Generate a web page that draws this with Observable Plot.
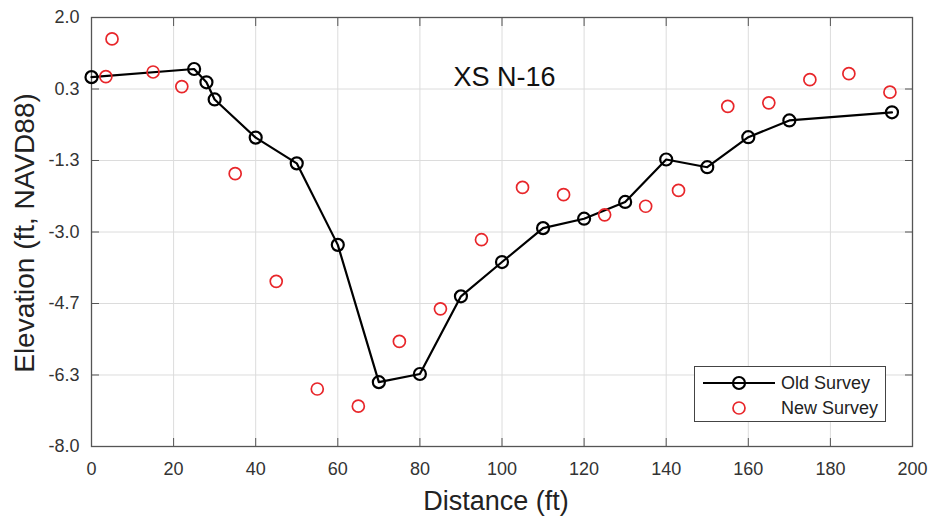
<!DOCTYPE html>
<html>
<head>
<meta charset="utf-8">
<script src="https://cdn.jsdelivr.net/npm/d3@7"></script>
<script src="https://cdn.jsdelivr.net/npm/@observablehq/plot@0.6"></script>
<style>
  html, body { margin: 0; padding: 0; background: #fff; }
  #wrap { position: relative; width: 933px; height: 525px; font-family: "Liberation Sans", Arial, Helvetica, sans-serif; }
  #legend { position: absolute; left: 694px; top: 366px; width: 192px; height: 56px; border: 1px solid #444; background: #fff; box-sizing: border-box; }
</style>
</head>
<body>
<div id="wrap"></div>
<script>
// Old survey (line with circle markers)
const oldDist = [0, 25, 28, 30, 40, 50, 60, 70, 80, 90, 100, 110, 120, 130, 140, 150, 160, 170, 195];
const oldElev = [0.61, 0.80, 0.49, 0.09, -0.80, -1.40, -3.30, -6.50, -6.31, -4.50, -3.70, -2.91, -2.69, -2.30, -1.31, -1.49, -0.79, -0.40, -0.21];
// New survey (red circles)
const newDist = [3.5, 5, 15, 22, 35, 45, 55, 65, 75, 85, 95, 105, 115, 125, 135, 143, 155, 165, 175, 184.5, 194.5];
const newElev = [0.62, 1.50, 0.73, 0.39, -1.64, -4.15, -6.66, -7.06, -5.55, -4.79, -3.18, -1.96, -2.13, -2.60, -2.40, -2.03, -0.07, 0.01, 0.55, 0.69, 0.26];
// Axis ticks
const xTicks = [0, 20, 40, 60, 80, 100, 120, 140, 160, 180, 200];
const yTicks = [-8, -6.3333, -4.6667, -3, -1.3333, 0.3333, 2];
const yTickLabels = ["-8.0", "-6.3", "-4.7", "-3.0", "-1.3", "0.3", "2.0"];
const title = "XS N-16";
const xLabel = "Distance (ft)";
const yLabel = "Elevation (ft, NAVD88)";
const seriesNames = ["Old Survey", "New Survey"];

const oldData = oldDist.map((d, i) => ({dist: d, elev: oldElev[i]}));
const newData = newDist.map((d, i) => ({dist: d, elev: newElev[i]}));
const yLabelMap = new Map(yTicks.map((t, i) => [t, yTickLabels[i]]));

const FONT = "Liberation Sans, Arial, Helvetica, sans-serif";
const axisColor = "#555";
const red = "#e8262a";

const chart = Plot.plot({
  width: 933,
  height: 525,
  marginLeft: 91,
  marginRight: 21,
  marginTop: 17,
  marginBottom: 79,
  style: {fontFamily: FONT, background: "#fff", color: "#333"},
  x: {domain: [0, 200]},
  y: {domain: [-8, 2]},
  marks: [
    Plot.gridX(xTicks, {stroke: "#dcdcdc", strokeOpacity: 1}),
    Plot.gridY(yTicks, {stroke: "#dcdcdc", strokeOpacity: 1}),
    Plot.frame({stroke: axisColor, strokeWidth: 1.3}),
    // inward tick marks on all four sides
    Plot.axisX(xTicks, {anchor: "bottom", tickSize: 8, dy: -8, tickFormat: () => "", stroke: axisColor, label: null}),
    Plot.axisX(xTicks, {anchor: "top", tickSize: 8, dy: 8, tickFormat: () => "", stroke: axisColor, label: null}),
    Plot.axisY(yTicks, {anchor: "left", tickSize: 8, dx: 8, tickFormat: () => "", stroke: axisColor, label: null}),
    Plot.axisY(yTicks, {anchor: "right", tickSize: 8, dx: -8, tickFormat: () => "", stroke: axisColor, label: null}),
    // tick labels
    Plot.axisX(xTicks, {anchor: "bottom", tickSize: 0, tickPadding: 16, fontSize: 18, fill: "#333", label: null}),
    Plot.axisY(yTicks, {anchor: "left", tickSize: 0, tickPadding: 12, fontSize: 18, fill: "#333", label: null,
      tickFormat: d => yLabelMap.get(d)}),
    // data
    Plot.line(oldData, {x: "dist", y: "elev", stroke: "#000", strokeWidth: 2.2}),
    Plot.dot(oldData, {x: "dist", y: "elev", r: 6, stroke: "#000", strokeWidth: 2.2, fill: "none"}),
    Plot.dot(newData, {x: "dist", y: "elev", r: 6, stroke: red, strokeWidth: 1.7, fill: "none"}),
    // texts
    Plot.text([title], {frameAnchor: "top", dx: 2.5, dy: 68, lineAnchor: "bottom", textAnchor: "middle", fontSize: 27, fill: "#111"}),
    Plot.text([xLabel], {frameAnchor: "bottom", dx: -6, dy: 63, lineAnchor: "bottom", textAnchor: "middle", fontSize: 27, fill: "#222"}),
    Plot.text([yLabel], {frameAnchor: "left", dx: -58, dy: 1, rotate: -90, lineAnchor: "bottom", textAnchor: "middle", fontSize: 28, fill: "#222"})
  ]
});

const wrap = document.getElementById("wrap");
wrap.appendChild(chart);

// Legend
const legend = document.createElement("div");
legend.id = "legend";
wrap.appendChild(legend);
const lsvg = d3.select(legend).append("svg").attr("width", 190).attr("height", 54)
  .style("position", "absolute").style("left", "0px").style("top", "0px");
lsvg.append("line").attr("x1", 8).attr("x2", 80).attr("y1", 16).attr("y2", 16).attr("stroke", "#000").attr("stroke-width", 2.2);
lsvg.append("circle").attr("cx", 44).attr("cy", 16).attr("r", 6).attr("fill", "none").attr("stroke", "#000").attr("stroke-width", 2.2);
lsvg.append("circle").attr("cx", 44).attr("cy", 41).attr("r", 6).attr("fill", "none").attr("stroke", red).attr("stroke-width", 1.7);
lsvg.selectAll("text.lab").data(seriesNames).join("text")
  .attr("class", "lab")
  .attr("x", 86)
  .attr("y", (d, i) => 22 + i * 25)
  .attr("font-size", 18)
  .attr("font-family", FONT)
  .attr("fill", "#222")
  .text(d => d);
</script>
</body>
</html>
